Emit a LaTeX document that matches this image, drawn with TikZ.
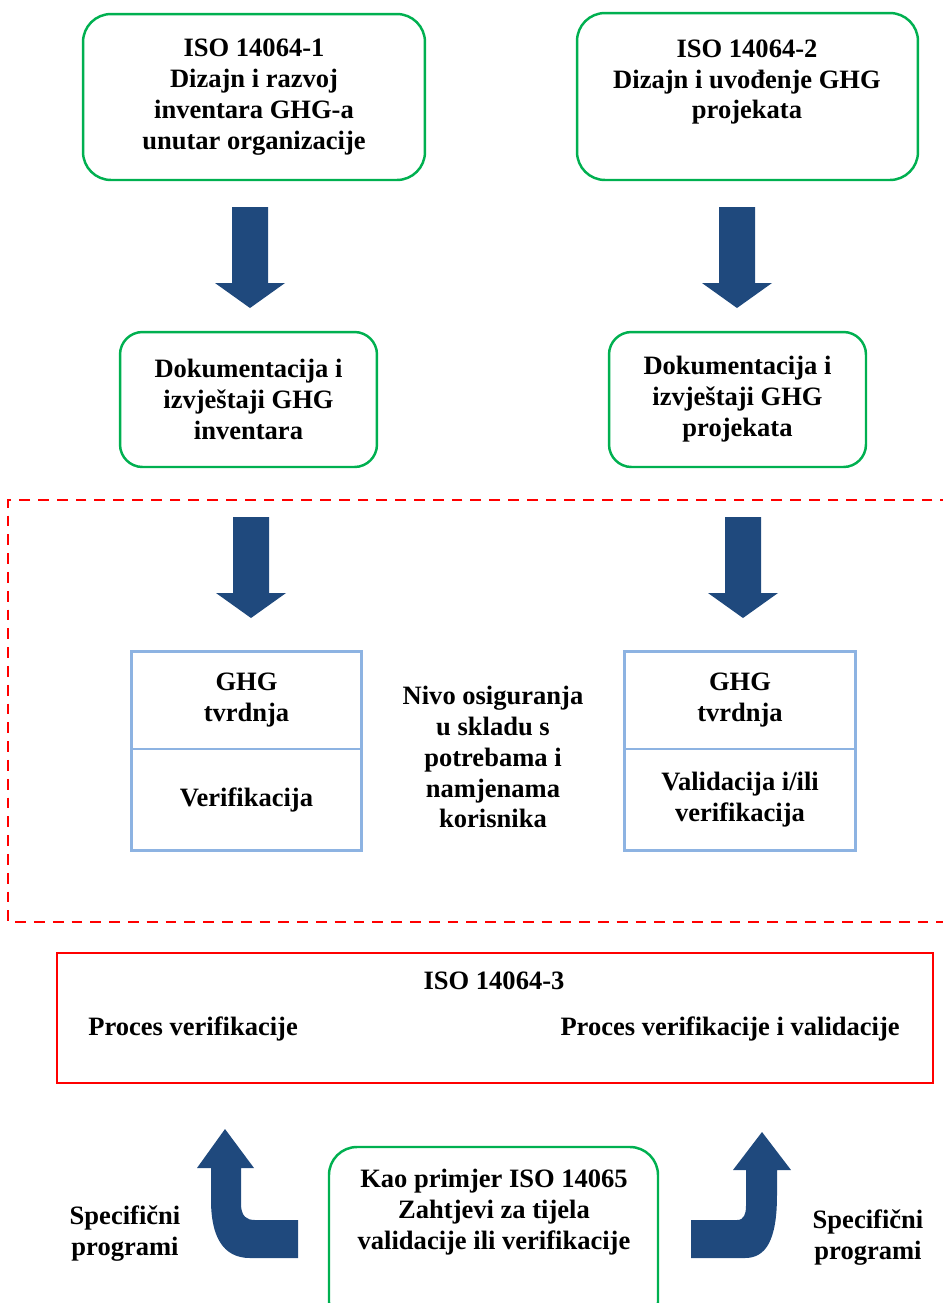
\documentclass[tikz,border=0pt]{standalone}
\usepackage{fontspec}
\setmainfont{Liberation Serif}
\usetikzlibrary{positioning}
\definecolor{boxgreen}{RGB}{0,176,80}
\definecolor{boxblue}{RGB}{141,179,226}
\definecolor{arrowblue}{RGB}{31,73,125}
\tikzset{
	txt/.style={align=center, inner sep=0pt, font=\bfseries\fontsize{15.1}{17.6}\selectfont},
	roundbox/.style={txt, rectangle, rounded corners=0.56cm, draw=boxgreen, line width=1.4pt, minimum width=6.84cm, minimum height=3.32cm},
	smallbox/.style={txt, rectangle, rounded corners=0.45cm, draw=boxgreen, line width=1.4pt, minimum width=5.14cm, minimum height=2.7cm},
	claimbox/.style={txt, rectangle, draw=boxblue, line width=1.7pt, outer sep=0pt, minimum width=4.62cm, minimum height=1.96cm},
	redbox/.style={rectangle, draw=red, line width=1.4pt, minimum width=17.52cm, minimum height=2.6cm},
	reddash/.style={draw=red, line width=1.5pt, dash pattern=on 6.2pt off 4.5pt},
	downarrow/.pic={\fill[arrowblue] (-18,0) -- (18,0) -- (18,76) -- (35,76) -- (0,101) -- (-35,76) -- (-18,76) -- cycle;}
}

\begin{document}
\begin{tikzpicture}[x=0.02cm, y=-0.02cm]
	\useasboundingbox (0,0) rectangle (943,1303);
	
	%top boxes
	\node[roundbox] at (254,97) (iso1) {ISO 14064-1\\Dizajn i razvoj\\inventara GHG-a\\unutar organizacije};
	\node[roundbox, minimum width=6.82cm, minimum height=3.34cm] at (747.5,96.5) (iso2) {};
	\node[txt] at (747,82) (iso2t) {ISO 14064-2\\Dizajn i uvođenje GHG\\projekata};
	
	\pic at (250,207) {downarrow};
	\pic at (737,207) {downarrow};
	
	%documentation
	\node[smallbox] at (248.5,399.5) (docL) {Dokumentacija i\\izvještaji GHG\\inventara};
	\node[smallbox] at (737.5,399.5) (docR) {Dokumentacija i\\izvještaji GHG\\projekata};
	
	%dashed region
	\draw[reddash] (970,500) -- (8,500) -- (8,922) -- (970,922);
	
	\pic at (251,517) {downarrow};
	\pic at (743,517) {downarrow};
	
	%claims
	\node[claimbox] at (246.5,700) (ghgL) {GHG\\tvrdnja};
	\node[claimbox, minimum height=2.04cm, below=0pt of ghgL] (verL) {Verifikacija};
	\node[claimbox, minimum width=4.64cm] at (740,700) (ghgR) {GHG\\tvrdnja};
	\node[claimbox, minimum width=4.64cm, minimum height=2.04cm, below=0pt of ghgR] (verR) {Validacija i/ili\\verifikacija};
	\node[txt] at (493,757) (level) {Nivo osiguranja\\u skladu s\\potrebama i\\namjenama\\korisnika};
	
	%ISO 14064-3
	\node[redbox] at (495,1018) (iso3) {};
	\node[txt] at (494,981) (iso3t) {ISO 14064-3};
	\node[txt, anchor=west] at (88,1029) (procL) {Proces verifikacije};
	\node[txt, anchor=east] at (900,1029) (procR) {Proces verifikacije i validacije};
	
	%bottom
	\draw[draw=boxgreen, line width=1.4pt, rounded corners=0.56cm] (329,1330) rectangle (658,1147);
	\node[txt] at (494,1212) (iso65) {Kao primjer ISO 14065\\Zahtjevi za tijela\\validacije ili verifikacije};
	\node[txt] at (125,1234) (progL) {Specifični\\programi};
	\node[txt] at (868,1238) (progR) {Specifični\\programi};
	
	%bent arrows
	\fill[arrowblue] (225,1129) -- (254,1168) -- (241,1168) -- (241,1206)
		.. controls (242,1216) and (246,1220) .. (255,1220) -- (298,1220) -- (298,1258) -- (250,1258)
		.. controls (222,1258) and (211,1235) .. (211,1200) -- (211,1168) -- (197,1168) -- cycle;
	\fill[arrowblue] (762,1132) -- (791,1170) -- (777,1170) -- (777,1195)
		.. controls (777,1240) and (766,1258) .. (745,1258) -- (691,1258) -- (691,1220) -- (737,1220)
		.. controls (744,1220) and (746,1214) .. (746,1206) -- (746,1170) -- (733,1170) -- cycle;
	
\end{tikzpicture}
\end{document}
